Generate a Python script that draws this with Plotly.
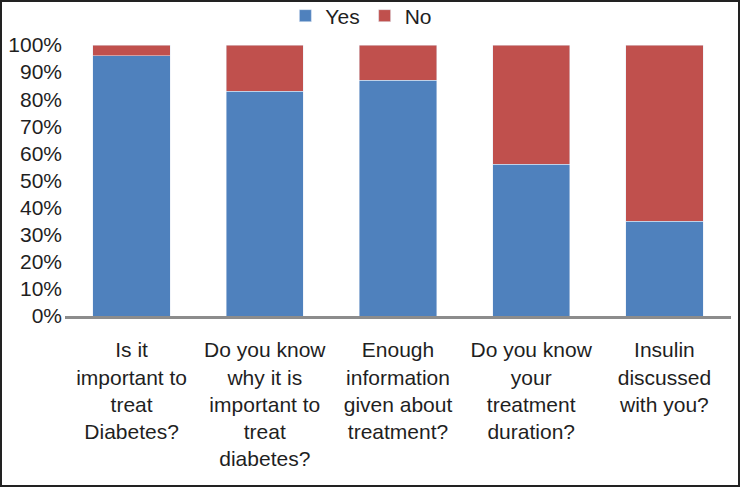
import plotly.graph_objects as go

categories = [
    "Is it<br>important to<br>treat<br>Diabetes?",
    "Do you know<br>why it is<br>important to<br>treat<br>diabetes?",
    "Enough<br>information<br>given about<br>treatment?",
    "Do you know<br>your<br>treatment<br>duration?",
    "Insulin<br>discussed<br>with you?",
]
yes_values = [96, 83, 87, 56, 35]
no_values = [4, 17, 13, 44, 65]
y_ticks = [0, 10, 20, 30, 40, 50, 60, 70, 80, 90, 100]

FONT = "Liberation Sans, Arial, sans-serif"
TXT = "#1f1f1f"

fig = go.Figure()
fig.add_trace(go.Bar(x=categories, y=yes_values, name="Yes", marker_color="#4F81BD"))
fig.add_trace(go.Bar(x=categories, y=no_values, name="No", marker_color="#C0504D"))

fig.update_layout(
    width=740, height=487,
    barmode="stack",
    bargap=0.42,
    paper_bgcolor="white",
    plot_bgcolor="white",
    margin=dict(l=65, r=9, t=45, b=171, autoexpand=False),
    font=dict(family=FONT, color=TXT, size=21),
    showlegend=True,
    legend=dict(
        orientation="h",
        xref="paper", yref="paper",
        x=0.445, xanchor="center",
        y=1.107, yanchor="middle",
        font=dict(size=21, family=FONT, color=TXT),
        bgcolor="rgba(0,0,0,0)",
        traceorder="normal",
    ),
    xaxis=dict(
        showline=True, linecolor="#8c8c8c", linewidth=3,
        showgrid=False, ticks="",
        tickfont=dict(size=21, family=FONT, color=TXT),
        ticklabelstandoff=13,
        automargin=False,
        fixedrange=True,
    ),
    yaxis=dict(
        range=[0, 100],
        tickvals=y_ticks,
        ticktext=[f"{v}%" for v in y_ticks],
        showgrid=False, zeroline=False, showline=False,
        ticks="",
        tickfont=dict(size=21, family=FONT, color=TXT),
        ticklabelstandoff=2,
        automargin=False,
        fixedrange=True,
    ),
    shapes=[
        dict(
            type="rect", xref="paper", yref="paper",
            x0=(1 - 65) / 666, x1=(739 - 65) / 666,
            y0=(316 - 486) / 271, y1=(316 - 1) / 271,
            line=dict(color="#222222", width=2),
            fillcolor="rgba(0,0,0,0)",
            layer="above",
        )
    ],
)

fig.write_html(
    "out.html",
    config={"displayModeBar": False},
    post_script="document.body.style.margin='0';document.body.style.overflow='hidden';",
)
